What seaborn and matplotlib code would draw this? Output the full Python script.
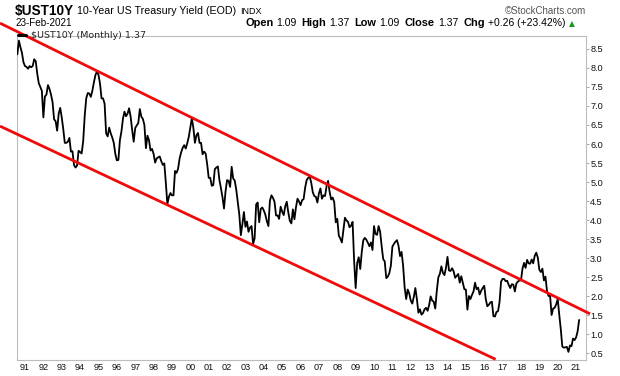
import matplotlib
matplotlib.use("Agg")
import matplotlib.pyplot as plt
import numpy as np
import pandas as pd
import seaborn as sns
from matplotlib.lines import Line2D

# ---------------- data (monthly closes, 10-Year US Treasury Yield) ----------------
start_year = 1990
start_month = 7  # first bar: Jul 1990

yields_1990s = [  # Jul 1990 - Dec 1999
    8.36, 8.72, 8.55, 8.40, 8.15, 8.05,
    8.03, 7.98, 8.05, 8.02, 8.05, 8.23, 8.18, 7.85, 7.60, 7.50, 7.40, 6.70,
    7.25, 7.30, 7.55, 7.45, 7.30, 7.10, 6.65, 6.60, 6.35, 6.80, 6.95, 6.70,
    6.39, 6.03, 6.03, 6.06, 6.16, 5.80, 5.81, 5.45, 5.38, 5.43, 5.82, 5.79,
    5.75, 6.07, 6.74, 7.20, 7.34, 7.33, 7.24, 7.40, 7.62, 7.81, 7.91, 7.82,
    7.59, 7.20, 7.20, 7.06, 6.28, 6.20, 6.43, 6.28, 6.17, 6.03, 5.74, 5.57,
    5.58, 6.10, 6.33, 6.67, 6.85, 6.73, 6.80, 6.94, 6.72, 6.37, 6.06, 6.42,
    6.49, 6.55, 6.92, 6.72, 6.66, 6.50, 5.89, 6.22, 6.10, 5.83, 5.87, 5.74,
    5.51, 5.62, 5.65, 5.67, 5.55, 5.45, 5.49, 4.98, 4.42, 4.61, 4.71, 4.65,
    4.65, 5.29, 5.24, 5.35, 5.62, 5.78, 5.90, 5.97, 5.88, 6.02, 6.19, 6.44,
]
yields_2000s = [
    6.68, 6.42, 6.03, 6.23, 6.29, 6.03, 6.03, 5.73, 5.80, 5.75, 5.47, 5.11,
    5.11, 4.90, 4.92, 5.34, 5.38, 5.41, 5.05, 4.84, 4.60, 4.30, 4.75, 5.05,
    5.03, 4.87, 5.40, 5.09, 5.04, 4.80, 4.46, 4.14, 3.60, 3.89, 4.21, 3.82,
    3.96, 3.69, 3.80, 3.84, 3.37, 3.52, 4.41, 4.46, 3.94, 4.29, 4.33, 4.25,
    4.14, 3.97, 3.84, 4.51, 4.65, 4.58, 4.48, 4.12, 4.12, 4.03, 4.35, 4.22,
    4.13, 4.36, 4.48, 4.20, 3.98, 3.91, 4.28, 4.02, 4.33, 4.56, 4.49, 4.39,
    4.52, 4.55, 4.85, 5.05, 5.11, 5.14, 4.98, 4.73, 4.63, 4.61, 4.46, 4.70,
    4.83, 4.56, 4.65, 4.63, 4.89, 5.03, 4.74, 4.54, 4.59, 4.47, 3.94, 4.03,
    3.59, 3.51, 3.41, 3.73, 4.06, 3.99, 3.95, 3.81, 3.85, 3.95, 2.93, 2.21,
    2.87, 3.02, 2.71, 3.16, 3.47, 3.53, 3.48, 3.40, 3.31, 3.41, 3.21, 3.84,
]
yields_2010s = [
    3.63, 3.61, 3.84, 3.69, 3.31, 2.97, 2.91, 2.47, 2.51, 2.60, 2.80, 3.30,
    3.37, 3.43, 3.47, 3.32, 3.05, 3.16, 2.80, 2.23, 1.92, 2.17, 2.07, 1.88,
    1.80, 1.98, 2.21, 1.92, 1.56, 1.65, 1.51, 1.55, 1.65, 1.69, 1.61, 1.76,
    1.99, 1.88, 1.85, 1.67, 2.13, 2.49, 2.58, 2.78, 2.61, 2.55, 2.74, 3.03,
    2.67, 2.66, 2.73, 2.65, 2.48, 2.53, 2.58, 2.35, 2.52, 2.35, 2.18, 2.17,
    1.64, 2.00, 1.92, 2.03, 2.12, 2.35, 2.18, 2.22, 2.04, 2.14, 2.21, 2.27,
    1.92, 1.73, 1.77, 1.83, 1.85, 1.47, 1.46, 1.58, 1.60, 1.84, 2.38, 2.45,
    2.45, 2.39, 2.40, 2.29, 2.21, 2.31, 2.30, 2.12, 2.33, 2.38, 2.41, 2.41,
    2.72, 2.87, 2.74, 2.95, 2.86, 2.85, 2.96, 2.86, 3.06, 3.14, 3.01, 2.69,
    2.63, 2.72, 2.41, 2.51, 2.13, 2.00, 2.02, 1.50, 1.67, 1.69, 1.78, 1.92,
]
yields_2020s = [
    1.51, 1.13, 0.67, 0.64, 0.65, 0.66, 0.53, 0.70, 0.68, 0.88, 0.84, 0.91,
    1.07, 1.37,
]

# trend channel anchor points (fractional year, yield)
upper_channel_x = [1989.64, 2021.76]
upper_channel_y = [9.18, 1.53]
lower_channel_x = [1989.64, 2016.62]
lower_channel_y = [6.47, 0.334]

year_ticks = [1991, 1992, 1993, 1994, 1995, 1996, 1997, 1998, 1999, 2000,
              2001, 2002, 2003, 2004, 2005, 2006, 2007, 2008, 2009, 2010,
              2011, 2012, 2013, 2014, 2015, 2016, 2017, 2018, 2019, 2020, 2021]
year_labels = ["91", "92", "93", "94", "95", "96", "97", "98", "99", "00",
               "01", "02", "03", "04", "05", "06", "07", "08", "09", "10",
               "11", "12", "13", "14", "15", "16", "17", "18", "19", "20", "21"]
y_ticks = [0.5, 1.0, 1.5, 2.0, 2.5, 3.0, 3.5, 4.0, 4.5, 5.0,
           5.5, 6.0, 6.5, 7.0, 7.5, 8.0, 8.5]

# header quote fields (label, value)
quote_labels = ["Open", "High", "Low", "Close", "Chg"]
quote_values = ["1.09", "1.37", "1.09", "1.37", "+0.26 (+23.42%)"]

# ---------------- build table ----------------
values = yields_1990s + yields_2000s + yields_2010s + yields_2020s
t = [start_year + (start_month + i) / 12.0 for i in range(len(values))]
df = pd.DataFrame({"t": t, "yield": values})

# ---------------- style ----------------
sns.set_theme(style="white")
plt.rcParams["font.family"] = ["Liberation Sans", "DejaVu Sans"]

W, H = 620, 376
fig = plt.figure(figsize=(W / 100, H / 100), dpi=100)
ax_l, ax_r, ax_t, ax_b = 16.5, 586, 36, 360
ax = fig.add_axes([ax_l / W, 1 - ax_b / H, (ax_r - ax_l) / W, (ax_b - ax_t) / H])

sns.lineplot(data=df, x="t", y="yield", ax=ax, color="black", linewidth=1.3,
             zorder=3, legend=False)

red = "#f00a0a"
ax.plot(upper_channel_x, upper_channel_y, color=red, linewidth=2.0,
        solid_capstyle="butt", clip_on=False, zorder=4)
ax.plot(lower_channel_x, lower_channel_y, color=red, linewidth=2.0,
        solid_capstyle="butt", clip_on=False, zorder=4)

ax.set_xlim(1990.537, 2021.54)
ax.set_ylim(0.316, 8.842)
ax.set_xlabel("")
ax.set_ylabel("")

ax.set_xticks(year_ticks)
ax.set_xticklabels(year_labels)
ax.yaxis.tick_right()
ax.set_yticks(y_ticks)
ax.set_yticklabels([f"{v:.1f}" for v in y_ticks])
ax.tick_params(axis="x", length=0, pad=2.2, labelsize=6.6, colors="#111111")
ax.tick_params(axis="y", which="both", right=True, left=False, length=2.2,
               width=0.7, pad=0.8, labelsize=6.6, colors="#111111")
ax.tick_params(axis="y", color="#aaaaaa")
for s in ax.spines.values():
    s.set_color("#bdbdbd")
    s.set_linewidth(0.8)
ax.grid(False)

# legend-like label inside top-left
handle = Line2D([0], [0], color="black", linewidth=2.2)
leg = ax.legend([handle], ["\\$UST10Y (Monthly) 1.37"], loc="upper left",
                bbox_to_anchor=(0.002, 1.015), frameon=False, borderaxespad=0,
                borderpad=0, handlelength=0.85, handletextpad=0.55,
                prop={"family": "DejaVu Sans", "size": 6.8})
leg.set_zorder(6)

# ---------------- header texts ----------------
def fx(px):
    return px / W

def fy(py):
    return 1 - py / H

renderer = fig.canvas.get_renderer()

def right_edge(txt):
    return txt.get_window_extent(renderer).x1

t1 = fig.text(fx(15), fy(14.5), "\\$UST10Y", fontsize=9.8, fontweight="bold",
              va="baseline", ha="left", color="black")
t2 = fig.text(fx(right_edge(t1) + 3), fy(14.5), "10-Year US Treasury Yield (EOD)",
              fontsize=7.7, va="baseline", ha="left", color="black")
fig.text(fx(right_edge(t2) + 4), fy(14.5), "INDX", fontsize=6.5,
         va="baseline", ha="left", color="black")
fig.text(fx(586), fy(14.5), "©StockCharts.com", fontsize=7.0, va="baseline",
         ha="right", color="#555555")
fig.text(fx(15), fy(26.5), "23-Feb-2021", fontsize=7.1, va="baseline",
         ha="left", color="black")

x = 245
for lab, val in zip(quote_labels, quote_values):
    tl = fig.text(fx(x), fy(26.5), lab, fontsize=7.9, fontweight="bold",
                  va="baseline", ha="left", color="black")
    x = right_edge(tl) + 3
    tv = fig.text(fx(x), fy(26.5), val, fontsize=7.5, va="baseline", ha="left",
                  color="black")
    x = right_edge(tv) + 5
fig.text(fx(x - 1), fy(26.0), "▲", fontsize=5.5, va="baseline", ha="left",
         color="#1a9a1a", family=["DejaVu Sans"])

fig.savefig("out.png", dpi=100)
